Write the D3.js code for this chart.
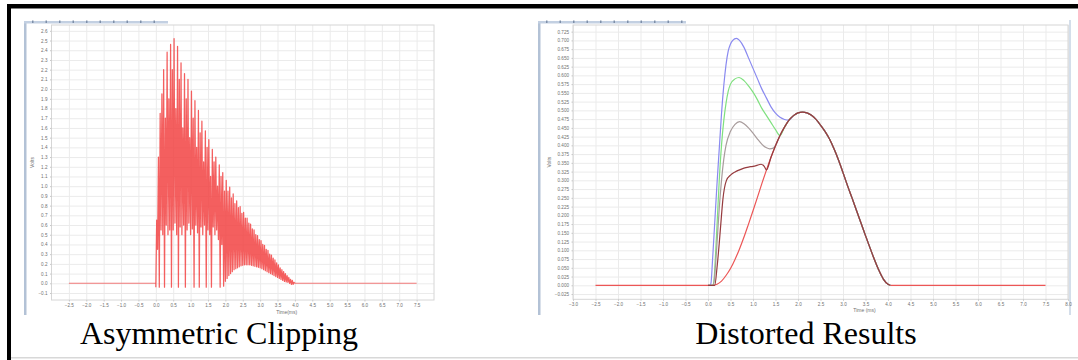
<!DOCTYPE html>
<html>
<head>
<meta charset="utf-8">
<script src="https://cdn.jsdelivr.net/npm/d3@7"></script>
<style>
  html, body { margin: 0; padding: 0; background: #fff; }
  svg { display: block; }
</style>
</head>
<body>
<svg id="fig" width="1078" height="360"></svg>
<script>
// ---------- Left panel: clipped amplifier output (Volts vs ms) ----------
const clipXTicks = [-2.5, -2, -1.5, -1, -0.5, 0, 0.5, 1, 1.5, 2, 2.5, 3, 3.5, 4, 4.5, 5, 5.5, 6, 6.5, 7, 7.5];
const clipYTicks = [-0.1, 0, 0.1, 0.2, 0.3, 0.4, 0.5, 0.6, 0.7, 0.8, 0.9, 1.0, 1.1, 1.2, 1.3,
                    1.4, 1.5, 1.6, 1.7, 1.8, 1.9, 2.0, 2.1, 2.2, 2.3, 2.4, 2.5, 2.6];

// quiet stretches before and after the burst: [[t0, v0], [t1, v1]]
const clipIdle = [
  [[-2.5, 0], [0.0, 0]],
  [[4.0, 0], [7.5, 0]]
];
// [time ms, volts] — oscillating burst, alternating crests and troughs
const clipWave = [
  [0.0, -0.04], [0.025, 0.65], [0.05, 0.35], [0.075, 1.3], [0.1, -0.04], [0.125, 1.75],
  [0.15, 0.55], [0.175, 1.95], [0.2, 0.5], [0.225, 2.2], [0.25, -0.04], [0.275, 1.7],
  [0.3, 0.6], [0.325, 2.38], [0.35, 0.5], [0.375, 1.9], [0.4, 0.55], [0.425, 2.46],
  [0.45, -0.04], [0.475, 2.2], [0.5, 0.55], [0.525, 2.52], [0.55, 0.62], [0.575, 1.8],
  [0.6, 0.5], [0.625, 2.44], [0.65, -0.04], [0.675, 2.1], [0.7, 0.58], [0.725, 2.27],
  [0.75, 0.5], [0.775, 1.6], [0.8, 0.6], [0.825, 2.16], [0.85, -0.04], [0.875, 1.9],
  [0.9, 0.55], [0.925, 2.1], [0.95, 0.62], [0.975, 1.5], [1.0, 0.5], [1.025, 1.98],
  [1.05, 0.56], [1.075, 1.7], [1.1, -0.04], [1.125, 1.88], [1.15, 0.6], [1.175, 1.4],
  [1.2, 0.52], [1.225, 1.78], [1.25, -0.04], [1.275, 1.55], [1.3, 0.58], [1.325, 1.67],
  [1.35, 0.5], [1.375, 1.25], [1.4, 0.6], [1.425, 1.57], [1.45, -0.04], [1.475, 1.4],
  [1.5, 0.55], [1.525, 1.48], [1.55, 0.5], [1.575, 1.1], [1.6, -0.04], [1.625, 1.38],
  [1.65, 0.58], [1.675, 1.25], [1.7, 0.5], [1.725, 1.3], [1.75, 0.55], [1.775, 1.0],
  [1.8, 0.45], [1.825, 1.22], [1.85, -0.04], [1.875, 1.1], [1.9, 0.4], [1.925, 1.14],
  [1.95, -0.03], [1.975, 0.95], [2.0, 0.02], [2.025, 1.06], [2.05, 0.05], [2.075, 0.95],
  [2.1, 0.08], [2.125, 0.99], [2.15, 0.1], [2.175, 0.88], [2.2, 0.12], [2.225, 0.92],
  [2.25, 0.14], [2.275, 0.82], [2.3, 0.15], [2.325, 0.85], [2.35, 0.16], [2.375, 0.78],
  [2.4, 0.17], [2.425, 0.79], [2.45, 0.18], [2.475, 0.72], [2.5, 0.185], [2.525, 0.73],
  [2.55, 0.19], [2.575, 0.67], [2.6, 0.19], [2.625, 0.67], [2.65, 0.19], [2.675, 0.62],
  [2.7, 0.19], [2.725, 0.61], [2.75, 0.185], [2.775, 0.56], [2.8, 0.18], [2.825, 0.55],
  [2.85, 0.175], [2.875, 0.5], [2.9, 0.17], [2.925, 0.49], [2.95, 0.165], [2.975, 0.45],
  [3.0, 0.16], [3.025, 0.44], [3.05, 0.15], [3.075, 0.4], [3.1, 0.14], [3.125, 0.39],
  [3.15, 0.13], [3.175, 0.35], [3.2, 0.12], [3.225, 0.34], [3.25, 0.11], [3.275, 0.3],
  [3.3, 0.1], [3.325, 0.29], [3.35, 0.09], [3.375, 0.26], [3.4, 0.08], [3.425, 0.24],
  [3.45, 0.07], [3.475, 0.21], [3.5, 0.06], [3.525, 0.19], [3.55, 0.05], [3.575, 0.16],
  [3.6, 0.04], [3.625, 0.14], [3.65, 0.03], [3.675, 0.12], [3.7, 0.02], [3.725, 0.1],
  [3.75, 0.015], [3.775, 0.08], [3.8, 0.01], [3.825, 0.06], [3.85, 0.0], [3.875, 0.04],
  [3.9, -0.01], [3.925, 0.03], [3.95, -0.01], [3.975, 0.01], [4.0, 0.0]
];

// ---------- Right panel: filtered responses (Volts vs ms) ----------
const respXTicks = [-3, -2.5, -2, -1.5, -1, -0.5, 0, 0.5, 1, 1.5, 2, 2.5, 3, 3.5, 4,
                    4.5, 5, 5.5, 6, 6.5, 7, 7.5, 8];
const respYTicks = [-0.025, 0, 0.025, 0.05, 0.075, 0.1, 0.125, 0.15, 0.175, 0.2, 0.225,
                    0.25, 0.275, 0.3, 0.325, 0.35, 0.375, 0.4, 0.425, 0.45, 0.475, 0.5,
                    0.525, 0.55, 0.575, 0.6, 0.625, 0.65, 0.675, 0.7, 0.725];

// undistorted pulse
const refPulse = [
  [-2.5, 0], [0.1, 0], [0.2, 0.003], [0.3, 0.012], [0.4, 0.028], [0.5, 0.048], [0.6, 0.074],
  [0.7, 0.104], [0.8, 0.138], [0.9, 0.175], [1.0, 0.213], [1.1, 0.252], [1.2, 0.292],
  [1.3, 0.33], [1.4, 0.366], [1.5, 0.399], [1.6, 0.428], [1.7, 0.452], [1.8, 0.472],
  [1.9, 0.485], [2.0, 0.493], [2.1, 0.495], [2.2, 0.493], [2.3, 0.486], [2.4, 0.474],
  [2.5, 0.458], [2.6, 0.44], [2.7, 0.418], [2.8, 0.39], [2.9, 0.358], [3.0, 0.322],
  [3.1, 0.285], [3.2, 0.25], [3.3, 0.214], [3.4, 0.178], [3.5, 0.142], [3.6, 0.107],
  [3.7, 0.073], [3.8, 0.042], [3.9, 0.017], [4.0, 0.003], [4.05, 0], [7.5, 0]
];
// distorted responses, each until it rejoins the undistorted pulse
const blueOut = [
  [0.0, 0], [0.05, 0.0], [0.07, 0.01], [0.1, 0.07], [0.15, 0.18], [0.2, 0.29], [0.25, 0.39],
  [0.3, 0.49], [0.35, 0.57], [0.4, 0.63], [0.45, 0.67], [0.5, 0.69], [0.55, 0.70],
  [0.63, 0.706], [0.7, 0.70], [0.8, 0.68], [0.9, 0.65], [1.0, 0.62], [1.1, 0.59],
  [1.2, 0.56], [1.3, 0.535], [1.4, 0.51], [1.5, 0.492], [1.6, 0.48], [1.7, 0.474]
];
const greenOut = [
  [0.0, 0], [0.1, 0], [0.13, 0.01], [0.16, 0.07], [0.2, 0.17], [0.25, 0.3], [0.3, 0.4],
  [0.35, 0.47], [0.4, 0.52], [0.45, 0.555], [0.5, 0.575], [0.6, 0.59], [0.69, 0.594],
  [0.8, 0.585], [0.9, 0.57], [1.0, 0.552], [1.1, 0.53], [1.2, 0.505], [1.3, 0.485],
  [1.4, 0.465], [1.5, 0.445], [1.6, 0.428]
];
const grayOut = [
  [0.0, 0], [0.12, 0], [0.15, 0.03], [0.2, 0.12], [0.25, 0.22], [0.3, 0.3], [0.35, 0.36],
  [0.4, 0.4], [0.5, 0.44], [0.6, 0.46], [0.7, 0.468], [0.8, 0.462], [0.9, 0.45],
  [1.0, 0.435], [1.1, 0.418], [1.2, 0.403], [1.3, 0.393], [1.37, 0.39], [1.45, 0.392],
  [1.5, 0.399]
];
const brownOut = [
  [0.0, 0], [0.15, 0], [0.2, 0.05], [0.25, 0.12], [0.3, 0.2], [0.33, 0.244], [0.41, 0.3],
  [0.5, 0.315], [0.6, 0.324], [0.7, 0.33], [0.8, 0.335], [0.9, 0.338], [1.0, 0.34],
  [1.07, 0.342], [1.18, 0.346], [1.25, 0.34], [1.3, 0.33]
];

const svg = d3.select("#fig");
const sansFont = "'Liberation Sans', Arial, sans-serif";

// ---------- page frame ----------
svg.append("rect").attr("x", 7).attr("y", 4).attr("width", 1071).attr("height", 4.5).attr("fill", "#000");
svg.append("rect").attr("x", 7).attr("y", 4).attr("width", 4).attr("height", 356).attr("fill", "#000");
svg.append("rect").attr("x", 11).attr("y", 357).attr("width", 1067).attr("height", 1.5).attr("fill", "#d8d8d8");

// screenshot-window chrome: left edge bar and small toolbar strip
function windowChrome(x0, toolbarEnd, rightEdge) {
  svg.append("rect").attr("x", x0).attr("y", 21).attr("width", 2.5).attr("height", 294).attr("fill", "#b3c2d6");
  svg.append("rect").attr("x", x0).attr("y", 21).attr("width", toolbarEnd - x0).attr("height", 2.5).attr("fill", "#c3d0e2");
  d3.range(x0 + 8, toolbarEnd - 4, 13.5).forEach(px => {
    svg.append("rect").attr("x", px).attr("y", 20.5).attr("width", 1.5).attr("height", 2.5).attr("fill", "#7d8ea8");
  });
  if (rightEdge) {
    svg.append("rect").attr("x", rightEdge).attr("y", 20).attr("width", 2).attr("height", 295).attr("fill", "#d4deea");
  }
}
windowChrome(24, 168, null);
windowChrome(538, 686, 1069);

// ---------- shared chart frame (grid, box, tick labels, titles) ----------
function chartFrame(x, y, xTicks, yTicks, fmtX, fmtY, yTitle, xTitle, yTitleX, xTitleY) {
  const [x0, x1] = x.range();
  const [yb, yt] = y.range();
  const g = svg.append("g");

  g.append("rect").attr("x", x0).attr("y", yt).attr("width", x1 - x0).attr("height", yb - yt)
    .attr("fill", "#fff");

  g.append("g").attr("transform", `translate(0,${yb})`)
    .call(d3.axisBottom(x).tickValues(xTicks).tickSize(-(yb - yt)).tickFormat(""))
    .call(s => { s.select(".domain").remove(); s.selectAll("line").attr("stroke", "#ebebeb"); });
  g.append("g").attr("transform", `translate(${x0},0)`)
    .call(d3.axisLeft(y).tickValues(yTicks).tickSize(-(x1 - x0)).tickFormat(""))
    .call(s => { s.select(".domain").remove(); s.selectAll("line").attr("stroke", "#ebebeb"); });

  g.append("rect").attr("x", x0).attr("y", yt).attr("width", x1 - x0).attr("height", yb - yt)
    .attr("fill", "none").attr("stroke", "#d6d6d6").attr("stroke-width", 1);

  g.append("g").attr("transform", `translate(0,${yb})`)
    .call(d3.axisBottom(x).tickValues(xTicks).tickSize(1.5).tickPadding(2).tickFormat(fmtX))
    .call(s => {
      s.select(".domain").remove();
      s.selectAll("line").attr("stroke", "#c8c8c8");
      s.selectAll("text").attr("font-family", sansFont).attr("font-size", 4.6).attr("fill", "#707070");
    });
  g.append("g").attr("transform", `translate(${x0},0)`)
    .call(d3.axisLeft(y).tickValues(yTicks).tickSize(1.5).tickPadding(2.5).tickFormat(fmtY))
    .call(s => {
      s.select(".domain").remove();
      s.selectAll("line").attr("stroke", "#c8c8c8");
      s.selectAll("text").attr("font-family", sansFont).attr("font-size", 4.6).attr("fill", "#707070");
    });

  g.append("text").attr("transform", `translate(${yTitleX},${(yb + yt) / 2}) rotate(-90)`)
    .attr("text-anchor", "middle").attr("font-family", sansFont).attr("font-size", 5)
    .attr("fill", "#707070").text(yTitle);
  g.append("text").attr("x", (x0 + x1) / 2 + 44).attr("y", xTitleY)
    .attr("text-anchor", "middle").attr("font-family", sansFont).attr("font-size", 5)
    .attr("fill", "#707070").text(xTitle);
  return g;
}

// ---------- left chart ----------
const xL = d3.scaleLinear().domain([-3, 8]).range([51.5, 434]);
const yL = d3.scaleLinear().domain([-0.172, 2.66]).range([300, 25]);
chartFrame(xL, yL, clipXTicks, clipYTicks, d3.format(".1f"), d3.format(".1f"),
           "Volts", "Time(ms)", 34, 314);

const lineL = d3.line().x(d => xL(d[0])).y(d => yL(d[1]));
svg.append("g").selectAll("path").data(clipIdle).join("path")
  .attr("d", lineL)
  .attr("fill", "none").attr("stroke", "#f07878").attr("stroke-width", 1.1);
svg.append("path").datum(clipWave)
  .attr("d", lineL)
  .attr("fill", "none").attr("stroke", "#f23c3c").attr("stroke-opacity", 0.82)
  .attr("stroke-width", 1.25).attr("stroke-linejoin", "round");

// ---------- right chart ----------
const xR = d3.scaleLinear().domain([-3, 8]).range([573, 1068]);
const yR = d3.scaleLinear().domain([-0.04, 0.744]).range([299.3, 25]);
chartFrame(xR, yR, respXTicks, respYTicks, d3.format(".1f"), d3.format(".3f"),
           "Volts", "Time (ms)", 550.5, 312);

const lineR = d3.line().curve(d3.curveMonotoneX).x(d => xR(d[0])).y(d => yR(d[1]));
// each distorted response continues along the undistorted pulse after it rejoins it
const withTail = s => s.concat(refPulse.filter(d => d[0] > s[s.length - 1][0] && d[0] <= 4.05));

const responses = [
  { data: refPulse, color: "#ec5656" },
  { data: withTail(blueOut), color: "#8a8af0" },
  { data: withTail(greenOut), color: "#7fe07f" },
  { data: withTail(grayOut), color: "#a89c9c" },
  { data: withTail(brownOut), color: "#963a3e" }
];
svg.append("g").selectAll("path").data(responses).join("path")
  .attr("d", d => lineR(d.data))
  .attr("fill", "none").attr("stroke", d => d.color).attr("stroke-width", 1.2)
  .attr("stroke-linejoin", "round");

// ---------- captions ----------
const serif = "'Liberation Serif', 'Times New Roman', serif";
svg.append("text").attr("x", 219).attr("y", 344).attr("text-anchor", "middle")
  .attr("font-family", serif).attr("font-size", 32).attr("fill", "#000").text("Asymmetric Clipping");
svg.append("text").attr("x", 806).attr("y", 344).attr("text-anchor", "middle")
  .attr("font-family", serif).attr("font-size", 32).attr("fill", "#000").text("Distorted Results");
</script>
</body>
</html>
